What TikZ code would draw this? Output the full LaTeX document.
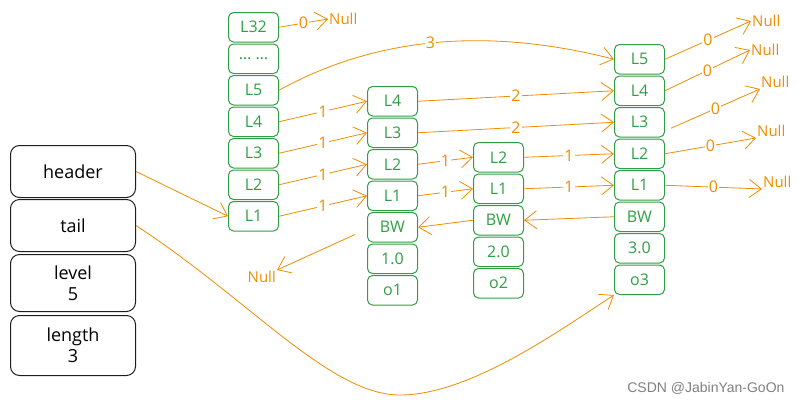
\documentclass[tikz,border=0pt]{standalone}
\usepackage{fontspec}
\setmainfont{Open Sans}
\setsansfont{Liberation Sans}
\usetikzlibrary{positioning,arrows.meta}
\definecolor{cellgreen}{HTML}{2F9E44}
\definecolor{linkorange}{HTML}{F08C00}
\definecolor{boxblack}{HTML}{1E1E1E}
\begin{document}
\begin{tikzpicture}[x=1pt, y=-1pt, >={Straight Barb[length=12pt,width=18pt]},
    cell/.style={draw=cellgreen, text=cellgreen, rounded corners=5pt, minimum width=50pt, minimum height=29.5pt, inner sep=0pt, line width=1pt, font=\fontsize{16}{16}\selectfont},
    field/.style={draw=boxblack, rounded corners=9pt, minimum width=125pt, inner sep=0pt, align=center, line width=1pt, font=\fontsize{18}{21}\selectfont},
    link/.style={draw=linkorange, ->, line width=0.8pt},
    hop/.style={pos=0.5, fill=white, text=linkorange, inner sep=1pt, font=\fontsize{16}{16}\selectfont},
    nulltext/.style={text=linkorange, inner sep=1pt, font=\fontsize{15}{15}\selectfont},
    node distance=1pt]
    \useasboundingbox (0,0) rectangle (800,405);
    % zskiplist
    \node[field, minimum height=52pt, anchor=north west] (header) at (10,145) {header};
    \node[field, minimum height=52pt, below=1pt of header] (tail) {tail};
    \node[field, minimum height=57pt, below=2pt of tail] (level) {level\\5};
    \node[field, minimum height=60pt, below=3pt of level] (length) {length\\3};
    % header node
    \node[cell, anchor=north west] (h32) at (228,12) {L32};
    \node[cell, below=of h32] (hdots) {\dots\ \dots};
    \node[cell, below=of hdots] (h5) {L5};
    \node[cell, below=of h5] (h4) {L4};
    \node[cell, below=of h4] (h3) {L3};
    \node[cell, below=of h3] (h2) {L2};
    \node[cell, below=of h2] (h1) {L1};
    % o1
    \node[cell, anchor=north west] (a4) at (367,86) {L4};
    \node[cell, below=of a4] (a3) {L3};
    \node[cell, below=of a3] (a2) {L2};
    \node[cell, below=of a2] (a1) {L1};
    \node[cell, below=of a1] (abw) {BW};
    \node[cell, below=of abw] (ascore) {1.0};
    \node[cell, below=of ascore] (aobj) {o1};
    % o2
    \node[cell, anchor=north west] (b2) at (473,142) {L2};
    \node[cell, below=of b2] (b1) {L1};
    \node[cell, below=of b1] (bbw) {BW};
    \node[cell, below=of bbw] (bscore) {2.0};
    \node[cell, below=of bscore] (bobj) {o2};
    % o3
    \node[cell, anchor=north west] (c5) at (614,44) {L5};
    \node[cell, below=of c5] (c4) {L4};
    \node[cell, below=of c4] (c3) {L3};
    \node[cell, below=of c3] (c2) {L2};
    \node[cell, below=of c2] (c1) {L1};
    \node[cell, below=of c1] (cbw) {BW};
    \node[cell, below=of cbw] (cscore) {3.0};
    \node[cell, below=of cscore] (cobj) {o3};
    % Null ends
    \node[nulltext, anchor=west] (n32) at (328,19) {Null};
    \node[nulltext, anchor=north east] (nbw) at (277,270) {Null};
    \node[nulltext, anchor=west] (nc5) at (751,21) {Null};
    \node[nulltext, anchor=west] (nc4) at (750,50) {Null};
    \node[nulltext, anchor=west] (nc3) at (760,82) {Null};
    \node[nulltext, anchor=west] (nc2) at (756,131) {Null};
    \node[nulltext, anchor=west] (nc1) at (762,182) {Null};
    % forward links
    \draw[link] (header.east) -- (h1.west);
    \draw[link] (tail.east) .. controls (250,300) and (330,395) .. (400,395) .. controls (470,395) and (560,330) .. (cobj.south west);
    \draw[link] (h32.east) -- node[hop] {0} (n32.west);
    \draw[link] (h5.east) .. controls (370,40) and (480,25) .. node[hop] {3} (c5.west);
    \draw[link] (h4.east) -- node[hop] {1} (a4.west);
    \draw[link] (h3.east) -- node[hop] {1} (a3.west);
    \draw[link] (h2.east) -- node[hop] {1} (a2.west);
    \draw[link] (h1.east) -- node[hop] {1} (a1.west);
    \draw[link] (a4.east) -- node[hop] {2} (c4.west);
    \draw[link] (a3.east) -- node[hop] {2} (c3.west);
    \draw[link] (a2.east) -- node[hop] {1} (b2.west);
    \draw[link] (a1.east) -- node[hop] {1} (b1.west);
    \draw[link] (b2.east) -- node[hop] {1} (c2.west);
    \draw[link] (b1.east) -- node[hop] {1} (c1.west);
    \draw[link] (c5.east) -- node[hop] {0} (nc5.west);
    \draw[link] (c4.east) -- node[hop] {0} (nc4.west);
    \draw[link] ([shift={(6,6)}]c3.east) -- node[hop] {0} (nc3.south west);
    \draw[link] (c2.east) -- node[hop] {0} (nc2.south west);
    \draw[link] (c1.east) -- node[hop] {0} (nc1.south west);
    % backward links
    \draw[link] (bbw.west) -- (abw.east);
    \draw[link] (cbw.west) -- (bbw.east);
    \draw[link] ([shift={(-12,-8)}]abw.south west) -- (nbw.north east);
    \node[anchor=east, text=gray, font=\sffamily\fontsize{14}{14}\selectfont] (mark) at (788,388) {CSDN @JabinYan-GoOn};
\end{tikzpicture}
\end{document}
